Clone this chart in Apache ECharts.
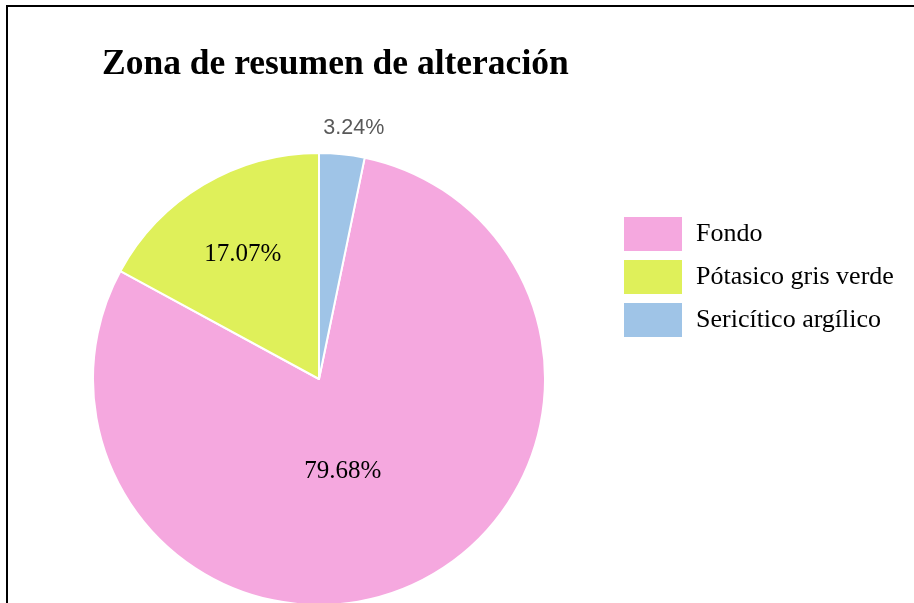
<!DOCTYPE html>
<html>
<head>
<meta charset="utf-8">
<script src="https://cdn.jsdelivr.net/npm/echarts@6/dist/echarts.min.js"></script>
<style>
html,body{margin:0;padding:0;background:#fff;}
#frame{position:absolute;left:6px;top:5px;width:920px;height:620px;border-top:2px solid #000;border-left:2px solid #000;box-sizing:border-box;}
#chart{position:absolute;left:0;top:0;width:914px;height:603px;}
</style>
</head>
<body>
<div id="frame"></div>
<div id="chart"></div>
<script>
const titleText = 'Zona de resumen de alteración';
const categories = ['Fondo', 'Pótasico gris verde', 'Sericítico argílico'];
const values = [79.68, 17.07, 3.24];
const colors = ['#f5a8df', '#dff05a', '#9fc4e7'];

const total = values.reduce((a, b) => a + b, 0);
// Sericítico slice starts at 12 o'clock, clockwise; Fondo follows it
const startAngle = 90 - values[2] / total * 360;

const labelOffsets = [[-25, -13], [-17, -25], [23, -136]];
const labelStyles = [
  {color: '#000', fontFamily: '"Liberation Serif", "Times New Roman", serif', fontSize: 25},
  {color: '#000', fontFamily: '"Liberation Serif", "Times New Roman", serif', fontSize: 25},
  {color: '#595959', fontFamily: '"Liberation Sans", Arial, sans-serif', fontSize: 21.5}
];

const chart = echarts.init(document.getElementById('chart'), null, {renderer: 'canvas'});
chart.setOption({
  animation: false,
  backgroundColor: 'transparent',
  title: {
    text: titleText,
    left: 97,
    top: 42,
    textStyle: {fontFamily: '"Liberation Serif", "Times New Roman", serif', fontWeight: 'bold', fontSize: 35.5, color: '#000'}
  },
  legend: {
    orient: 'vertical',
    left: 622,
    top: 215,
    padding: 0,
    itemWidth: 60,
    itemHeight: 36,
    itemGap: 5,
    icon: 'rect',
    data: categories,
    textStyle: {fontFamily: '"Liberation Serif", "Times New Roman", serif', fontSize: 26, color: '#000', padding: [0, 0, 0, 8]}
  },
  series: [{
    type: 'pie',
    center: [319, 379],
    radius: 226,
    startAngle: startAngle,
    clockwise: true,
    avoidLabelOverlap: false,
    itemStyle: {borderColor: '#fff', borderWidth: 2},
    labelLine: {show: false},
    emphasis: {disabled: true},
    data: categories.map((c, i) => ({
      name: c,
      value: values[i],
      itemStyle: {color: colors[i]},
      label: Object.assign({show: true, position: 'inside', formatter: values[i].toFixed(2) + '%', offset: labelOffsets[i]}, labelStyles[i])
    }))
  }]
});
</script>
</body>
</html>
